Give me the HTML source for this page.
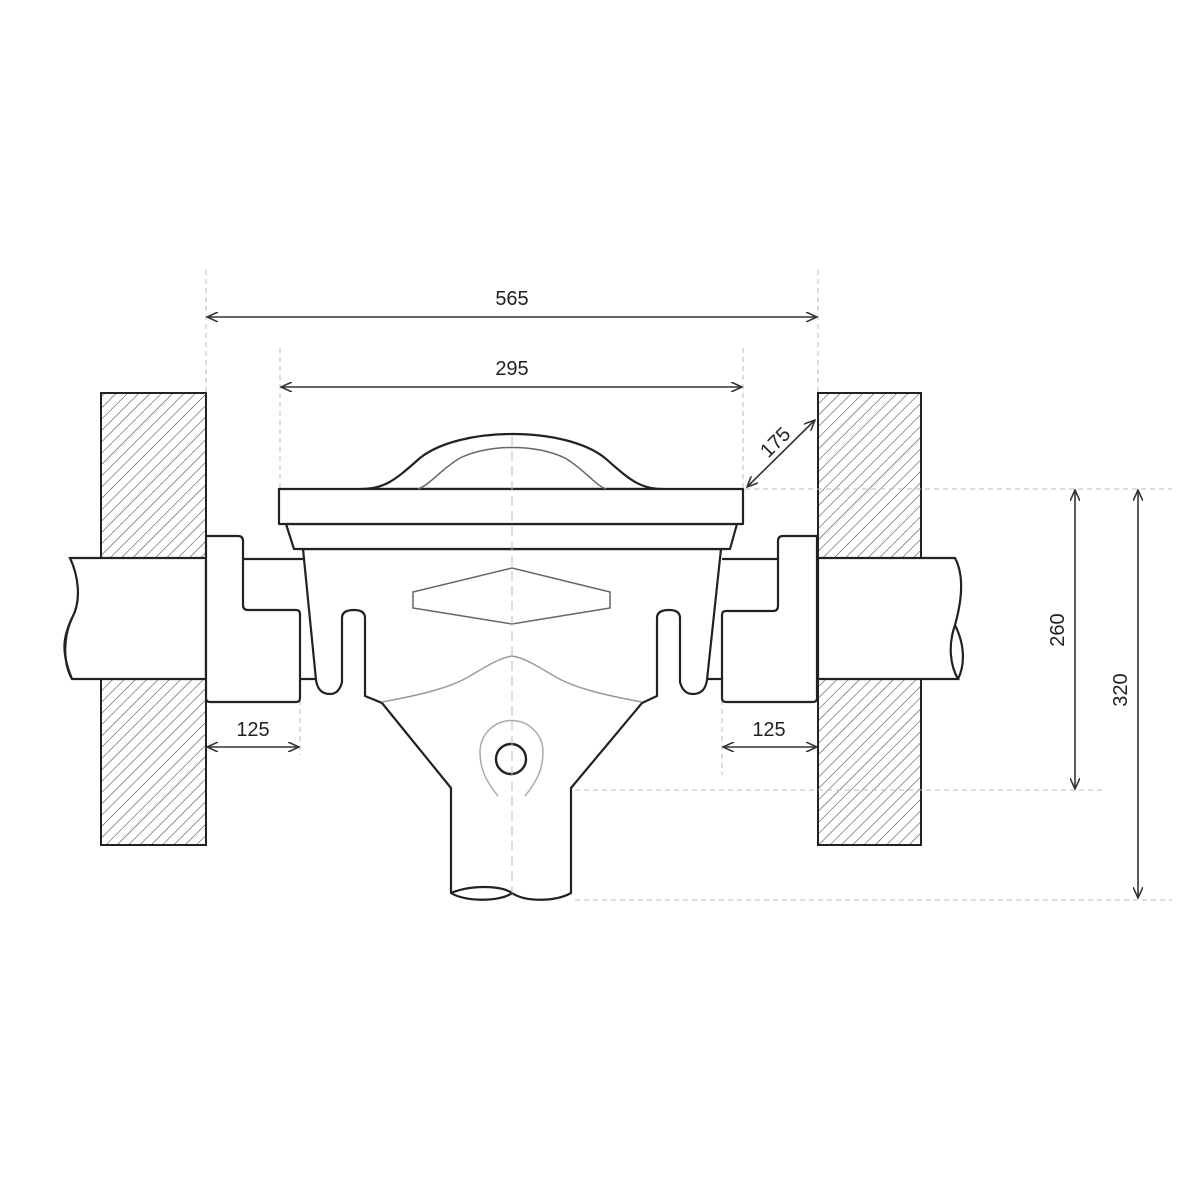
<!DOCTYPE html>
<html><head><meta charset="utf-8"><style>
html,body{margin:0;padding:0;background:#fff;}
svg{display:block;}
text{font-family:"Liberation Sans",sans-serif;font-size:20px;fill:#222;}
</style></head><body>
<svg width="1200" height="1200" viewBox="0 0 1200 1200" xmlns="http://www.w3.org/2000/svg">
<defs>
<pattern id="h" patternUnits="userSpaceOnUse" width="8" height="8" patternTransform="rotate(45)">
<line x1="0" y1="0" x2="0" y2="8" stroke="#444" stroke-width="1.1"/>
</pattern>
<marker id="a" viewBox="0 0 12 10" refX="11" refY="5" markerWidth="12" markerHeight="10" markerUnits="userSpaceOnUse" orient="auto-start-reverse">
<path d="M0,0 L11,5 L0,10" fill="none" stroke="#333" stroke-width="1.6"/>
</marker>
</defs>
<rect width="1200" height="1200" fill="#fff"/>

<rect x="101" y="393" width="105" height="452" fill="url(#h)" stroke="#222" stroke-width="2"/>
<rect x="818" y="393" width="103" height="452" fill="url(#h)" stroke="#222" stroke-width="2"/>

<g stroke="#222" stroke-width="2.2" fill="#fff">
<path d="M70,558 L206,558 L206,679 L72,679 C60,650 64,635 72,618 C82,600 78,575 70,558 Z"/>
<path d="M72,618 C62,640 64,665 72,679" fill="none"/>
<path d="M818,558 L955,558 C964,575 962,600 955,625 C948,645 950,665 958,679 L818,679 Z"/>
<path d="M955,625 C965,645 965,665 958,679" fill="none"/>
</g>

<g stroke="#bbb" stroke-width="1" stroke-dasharray="5,4" fill="none">
<line x1="206" y1="270" x2="206" y2="393"/>
<line x1="818" y1="270" x2="818" y2="393"/>
<line x1="280" y1="348" x2="280" y2="489"/>
<line x1="743" y1="348" x2="743" y2="489"/>
<line x1="300" y1="700" x2="300" y2="755"/>
<line x1="722" y1="700" x2="722" y2="775"/>
<line x1="745" y1="489" x2="1172" y2="489"/>
<line x1="575" y1="790" x2="1105" y2="790"/>
<line x1="575" y1="900" x2="1172" y2="900"/>
</g>

<g stroke="#222" stroke-width="2.2" fill="#fff">
<path d="M206,536 L238,536 Q243,536 243,541 L243,605 Q243,610 248,610 L296,610 Q300,610 300,614 L300,698 Q300,702 296,702 L210,702 Q206,702 206,698 Z"/>
<path d="M817,536 L783,536 Q778,536 778,541 L778,606 Q778,611 773,611 L726,611 Q722,611 722,615 L722,698 Q722,702 726,702 L813,702 Q817,702 817,698 Z"/>
<line x1="243" y1="559" x2="304" y2="559"/>
<line x1="300" y1="679" x2="318" y2="679"/>
<line x1="722" y1="559" x2="778" y2="559"/>
<line x1="706" y1="679" x2="722" y2="679"/>
</g>

<g stroke="#222" stroke-width="2.2" fill="#fff" stroke-linejoin="round">
<path d="M303,549 L721,549 L707,680 Q705,694 693,694 Q683,694 680,682 L680,618 Q680,610 669,610 Q657,610 657,618 L657,696 L642,703 L571,788 L571,893 C555,902 525,902 512,893 C500,885 470,885 451,893 L451,788 L382,703 L365,696 L365,618 Q365,610 354,610 Q342,610 342,618 L342,682 Q339,694 330,694 Q318,694 316,680 Z"/>
<path d="M286,524 L737,524 L730,549 L294,549 Z"/>
<path d="M361,489 C385,489 395,480 420,458 C460,426 565,426 605,458 C630,480 640,489 663,489 Z"/>
<rect x="279" y="489" width="464" height="35"/>
</g>
<g stroke="#666" stroke-width="1.5" fill="none">
<path d="M418,489 C430,485 440,470 460,458 C490,444 535,444 565,458 C585,470 595,485 606,489"/>
<path d="M413,592 L512,568 L610,592 L610,608 L512,624 L413,608 Z"/>
<path d="M382,702 C420,695 450,688 470,676 C490,664 500,658 512,656 C524,658 534,664 554,676 C574,688 604,695 642,702" stroke="#999"/>
<path d="M498,796 C485,780 480,768 480,752 A31,31 0 0 1 543,752 C543,768 538,780 525,796" stroke="#aaa"/>
</g>
<circle cx="511" cy="759" r="15" fill="none" stroke="#222" stroke-width="2.4"/>
<line x1="512" y1="436" x2="512" y2="900" stroke="#bbb" stroke-width="1" stroke-dasharray="10,5"/>
<path d="M451,893 C465,902 500,902 512,893" fill="none" stroke="#222" stroke-width="2.2"/>

<g stroke="#333" stroke-width="1.6" fill="none" marker-start="url(#a)" marker-end="url(#a)">
<line x1="207" y1="317" x2="817" y2="317"/>
<line x1="281" y1="387" x2="742" y2="387"/>
<line x1="747" y1="487" x2="815" y2="420"/>
<line x1="207" y1="747" x2="299" y2="747"/>
<line x1="723" y1="747" x2="817" y2="747"/>
<line x1="1075" y1="490" x2="1075" y2="789"/>
<line x1="1138" y1="490" x2="1138" y2="898"/>
</g>
<text x="512" y="305" text-anchor="middle">565</text>
<text x="512" y="375" text-anchor="middle">295</text>
<text x="253" y="736" text-anchor="middle">125</text>
<text x="769" y="736" text-anchor="middle">125</text>
<text transform="translate(780,447) rotate(-45)" text-anchor="middle">175</text>
<text transform="translate(1064,630) rotate(-90)" text-anchor="middle">260</text>
<text transform="translate(1127,690) rotate(-90)" text-anchor="middle">320</text>
</svg>
</body></html>
